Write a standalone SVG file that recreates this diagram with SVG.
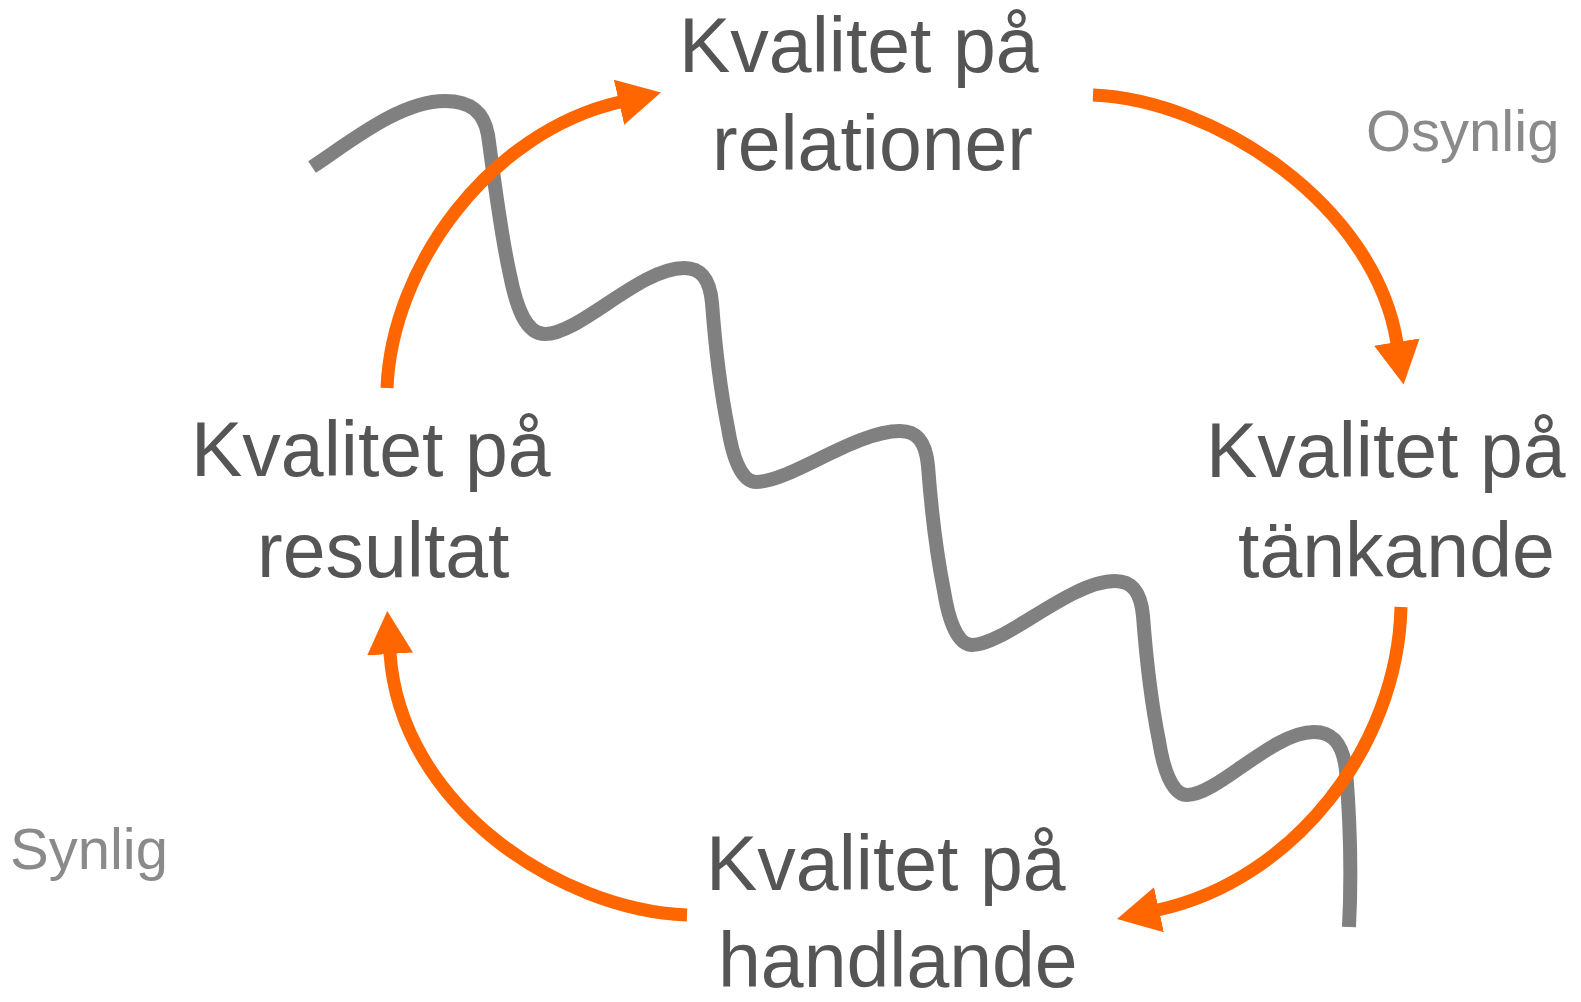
<svg xmlns="http://www.w3.org/2000/svg" width="1581" height="1002" viewBox="0 0 1581 1002">
<style>
.lbl{font-family:"Liberation Sans",Arial,sans-serif;font-size:77px;fill:#555555}
.side{font-family:"Liberation Sans",Arial,sans-serif;font-size:58px;fill:#8a8a8a}
.arc{fill:none;stroke:#ff6600;stroke-width:13}
.wave{fill:none;stroke:#808080;stroke-width:14;stroke-linecap:butt}
</style>
<defs>
<marker id="ah" markerUnits="userSpaceOnUse" markerWidth="44" markerHeight="46" viewBox="0 0 44 46" refX="1" refY="23" orient="auto">
<path d="M0,0 L43,23 L0,46 Z" fill="#ff6600"/>
</marker>
</defs>
<rect width="1581" height="1002" fill="#ffffff"/>
<g id="wave">
<path class="wave" d="M312,167 C350,142 400,101 445,101 C470,101 484,112 488,135 C493,170 500,230 510,275 C516,305 525,334 545,334 C580,334 640,268 684,268 C702,268 710,280 712,303 C715,343 720,388 728,428 C732,453 740,482 756,482 C790,482 855,431 900,431 C918,431 926,443 928,466 C931,506 936,551 944,591 C948,616 956,645 972,645 C1005,645 1070,581 1115,581 C1133,581 1141,593 1143,616 C1146,656 1151,701 1159,741 C1163,766 1171,795 1187,795 C1218,795 1272,732 1314,732 C1334,732 1343,745 1346,770 C1350,820 1352,870 1349,927"/>
</g>
<g id="connectors">
<path class="arc" marker-end="url(#ah)" d="M387,388 C392,265 490,132 620,102"/>
<path class="arc" marker-end="url(#ah)" d="M1093,95 C1215,100 1375,205 1397,343"/>
<path class="arc" marker-end="url(#ah)" d="M1401,607 C1398,745 1295,880 1158,910"/>
<path class="arc" marker-end="url(#ah)" d="M687,915 C560,910 400,805 390,653"/>
</g>
<g id="node-relationer">
<text class="lbl" x="679" y="72">Kvalitet på</text>
<text class="lbl" x="712" y="170">relationer</text>
</g>
<g id="node-tankande">
<text class="lbl" x="1206" y="477">Kvalitet på</text>
<text class="lbl" x="1238" y="577">tänkande</text>
</g>
<g id="node-handlande">
<text class="lbl" x="706" y="890">Kvalitet på</text>
<text class="lbl" x="718" y="987">handlande</text>
</g>
<g id="node-resultat">
<text class="lbl" x="191" y="476">Kvalitet på</text>
<text class="lbl" x="257" y="577">resultat</text>
</g>
<g id="label-osynlig">
<text class="side" x="1366" y="151">Osynlig</text>
</g>
<g id="label-synlig">
<text class="side" x="10" y="869">Synlig</text>
</g>
</svg>
